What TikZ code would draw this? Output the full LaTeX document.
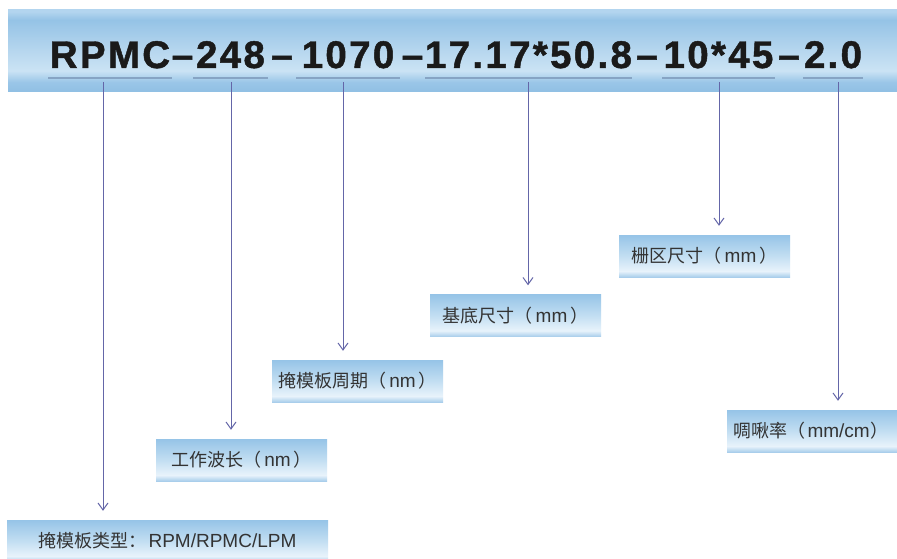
\documentclass[tikz,border=0pt]{standalone}
\usepackage{fontspec}
\setmainfont{Liberation Sans}
\newfontfamily\cjk{Noto Sans CJK SC}
\newfontfamily\titlefont[LetterSpace=6,FakeBold=1.2]{Liberation Sans}
\newcommand\zh[1]{{\cjk\fontsize{18}{20}\selectfont #1}}
\usetikzlibrary{arrows.meta}
\definecolor{banA}{HTML}{90BFE3}
\definecolor{banB}{HTML}{9AC6E8}
\definecolor{banC}{HTML}{CBE3F4}
\definecolor{banD}{HTML}{BCDAF0}
\definecolor{banE}{HTML}{95C3E6}
\definecolor{banF}{HTML}{B3D5EF}
\definecolor{boxA}{HTML}{A9CEEB}
\definecolor{boxB}{HTML}{E8F3FB}
\definecolor{boxC}{HTML}{C2DEF2}
\definecolor{boxD}{HTML}{96C4E7}
\definecolor{arrcol}{HTML}{6466A8}
\definecolor{ulcol}{HTML}{86A4C4}
\definecolor{titlecol}{HTML}{1A1A1A}
\definecolor{boxtext}{HTML}{333333}
\pgfdeclareverticalshading{bannersh}{100bp}{color(0bp)=(banA); color(25bp)=(banA); color(31bp)=(banB); color(38bp)=(banC); color(47bp)=(banD); color(69bp)=(banE); color(74bp)=(banF); color(100bp)=(banF)}
\pgfdeclareverticalshading{boxsh}{100bp}{color(0bp)=(boxA); color(25bp)=(boxA); color(32bp)=(boxB); color(50bp)=(boxC); color(75bp)=(boxD); color(100bp)=(boxD)}
\tikzset{
  seg/.style={anchor=base, inner sep=0pt, text=titlecol, font=\titlefont\bfseries\fontsize{38.5}{40}\selectfont},
  uline/.style={draw=ulcol, line width=1.1pt},
  arr/.style={draw=arrcol, line width=1pt, shorten >=9pt, -{Straight Barb[length=7pt,width=10pt]}},
  lbox/.style={rectangle, shading=boxsh, minimum height=42pt, inner sep=0pt, text=boxtext, font=\fontsize{19}{21}\selectfont},
}
\begin{document}
\begin{tikzpicture}[x=1pt,y=-1pt]
\useasboundingbox (0,0) rectangle (897,559);
\fill[white] (0,0) rectangle (897,559);
% banner
\shade[shading=bannersh] (8,10) rectangle (897,92);
% title segments
\node[seg] (s1) at (110,68) {RPMC};
\node[seg] (d1) at (182.5,68) {–};
\node[seg] (s2) at (230.5,68) {248};
\node[seg] (d2) at (282,68) {–};
\node[seg] (s3) at (348,68) {1070};
\node[seg] (d3) at (412.5,68) {–};
\node[seg] (s4) at (528.5,68) {17.17*50.8};
\node[seg] (d4) at (647,68) {–};
\node[seg] (s5) at (718.5,68) {10*45};
\node[seg] (d5) at (789,68) {–};
\node[seg] (s6) at (833,68) {2.0};
% underlines
\draw[uline] (48,78) -- (172,78);
\draw[uline] (193,78) -- (268,78);
\draw[uline] (296,78) -- (400,78);
\draw[uline] (425,78) -- (632,78);
\draw[uline] (662,78) -- (775,78);
\draw[uline] (803,78) -- (863,78);
% label boxes
\node[lbox, minimum width=321pt] (b1) at (167.5,541) {\zh{掩模板类型：}\hspace{2pt}RPM/RPMC/LPM};
\node[lbox, minimum width=171pt] (b2) at (241.5,460) {\zh{工作波长（}\hspace{3pt}nm\hspace{3pt}\zh{）}};
\node[lbox, minimum width=171pt] (b3) at (357.5,381) {\zh{掩模板周期（}\hspace{3pt}nm\hspace{3pt}\zh{）}};
\node[lbox, minimum width=171pt] (b4) at (515.5,315.5) {\zh{基底尺寸（}\hspace{3pt}mm\hspace{3pt}\zh{）}};
\node[lbox, minimum width=171pt] (b5) at (704.5,256) {\zh{栅区尺寸（}\hspace{3pt}mm\hspace{3pt}\zh{）}};
\node[lbox, minimum width=170pt] (b6) at (812,431) {};
\node[anchor=east, inner sep=0pt, text=boxtext, font=\fontsize{19}{21}\selectfont] (t6) at (889,431) {\zh{啁啾率（}\hspace{2pt}mm/cm\hspace{1pt}\zh{）}};
% connectors
\coordinate (c1) at (103,82);
\coordinate (c2) at (231,82);
\coordinate (c3) at (343,82);
\coordinate (c4) at (528,82);
\coordinate (c5) at (719,82);
\coordinate (c6) at (838,82);
\draw[arr] (c1) -- (c1 |- b1.north);
\draw[arr] (c2) -- (c2 |- b2.north);
\draw[arr] (c3) -- (c3 |- b3.north);
\draw[arr] (c4) -- (c4 |- b4.north);
\draw[arr] (c5) -- (c5 |- b5.north);
\draw[arr] (c6) -- (c6 |- b6.north);
\end{tikzpicture}
\end{document}
